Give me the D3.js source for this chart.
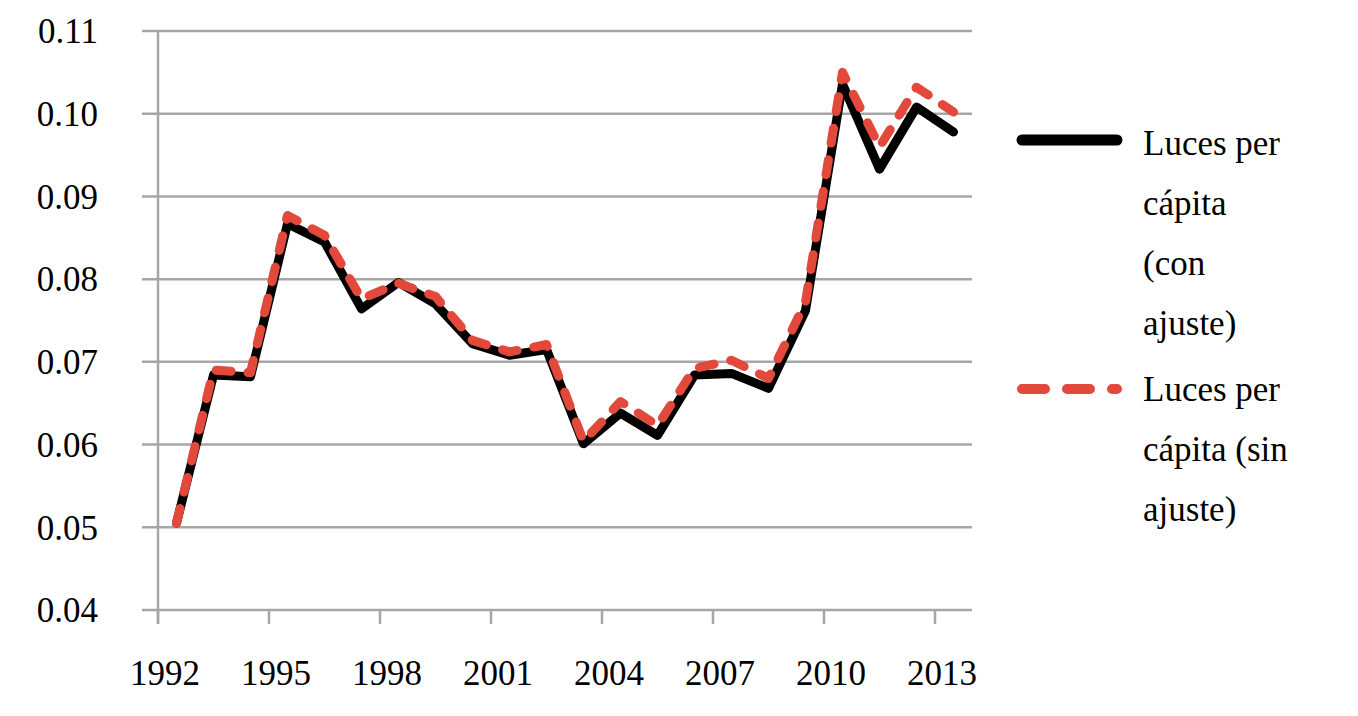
<!DOCTYPE html>
<html>
<head>
<meta charset="utf-8">
<script src="https://cdn.jsdelivr.net/npm/d3@7"></script>
<style>
  body { margin: 0; background: #fff; }
</style>
</head>
<body>
<svg class="chart"></svg>
<script>
// datos
const years = d3.range(1992, 2014).map(String);
const conAjuste = [0.0505, 0.0684, 0.0682, 0.0867, 0.0845, 0.0764, 0.0796, 0.0770, 0.0722, 0.0708,
  0.0715, 0.0601, 0.0638, 0.0611, 0.0684, 0.0686, 0.0668, 0.0762, 0.1036, 0.0933, 0.1008, 0.0978];
const sinAjuste = [0.0505, 0.0690, 0.0687, 0.0877, 0.0853, 0.0776, 0.0795, 0.0779, 0.0726, 0.0712,
  0.0721, 0.0604, 0.0652, 0.0623, 0.0692, 0.0702, 0.0680, 0.0772, 0.1050, 0.0960, 0.1032, 0.1002];
const yTicks = [0.04, 0.05, 0.06, 0.07, 0.08, 0.09, 0.10, 0.11];
const xLabels = ["1992", "1995", "1998", "2001", "2004", "2007", "2010", "2013"];
const legendNames = [["Luces per", "cápita", "(con", "ajuste)"], ["Luces per", "cápita (sin", "ajuste)"]];

const W = 1358, H = 716;
const margin = { left: 158, right: 972, top: 31, bottom: 610 };
const grey = "#a6a6a6", red = "#e2493b";

const svg = d3.select(".chart")
    .attr("width", W)
    .attr("height", H)
    .attr("font-family", "'Liberation Serif', 'Times New Roman', Times, serif")
    .attr("font-size", 35);

const x = d3.scaleBand().domain(years).range([margin.left, margin.right]).padding(0);
const y = d3.scaleLinear().domain([0.04, 0.11]).range([margin.bottom, margin.top]);

// líneas de cuadrícula horizontales + marcas del eje y
svg.append("g")
  .selectAll("line")
  .data(yTicks)
  .join("line")
    .attr("x1", margin.left - 16)
    .attr("x2", margin.right)
    .attr("y1", d => y(d))
    .attr("y2", d => y(d))
    .attr("stroke", grey)
    .attr("stroke-width", 2.5);

svg.append("g")
  .selectAll("text")
  .data(yTicks)
  .join("text")
    .attr("x", 98)
    .attr("y", d => y(d))
    .attr("dy", "0.35em")
    .attr("text-anchor", "end")
    .text(d => d3.format(".2f")(d));

// eje y
svg.append("line")
  .attr("x1", margin.left).attr("x2", margin.left)
  .attr("y1", margin.top).attr("y2", margin.bottom + 14)
  .attr("stroke", grey).attr("stroke-width", 2.5);

// marcas del eje x cada 3 años
svg.append("g")
  .selectAll("line")
  .data(xLabels)
  .join("line")
    .attr("x1", d => x(d))
    .attr("x2", d => x(d))
    .attr("y1", margin.bottom)
    .attr("y2", margin.bottom + 14)
    .attr("stroke", grey)
    .attr("stroke-width", 2.5);

svg.append("g")
  .selectAll("text")
  .data(xLabels)
  .join("text")
    .attr("x", d => x(d) + 7)
    .attr("y", 685)
    .attr("text-anchor", "middle")
    .text(d => d);

const cx = d => x(d) + x.bandwidth() / 2;

const lineYear = d3.line()
  .x((d, i) => cx(years[i]))
  .y(d => y(d));

svg.append("path")
  .datum(conAjuste)
  .attr("d", lineYear)
  .attr("fill", "none")
  .attr("stroke", "#000")
  .attr("stroke-width", 9)
  .attr("stroke-linejoin", "round")
  .attr("stroke-linecap", "round");

svg.append("path")
  .datum(sinAjuste)
  .attr("d", lineYear)
  .attr("fill", "none")
  .attr("stroke", red)
  .attr("stroke-width", 9)
  .attr("stroke-dasharray", "15,17")
  .attr("stroke-linejoin", "round")
  .attr("stroke-linecap", "round");

// leyenda
const leg = svg.append("g");
leg.append("line")
  .attr("x1", 1022).attr("x2", 1117)
  .attr("y1", 140).attr("y2", 140)
  .attr("stroke", "#000").attr("stroke-width", 11)
  .attr("stroke-linecap", "round");
leg.append("line")
  .attr("x1", 1022).attr("x2", 1117)
  .attr("y1", 389).attr("y2", 389)
  .attr("stroke", red).attr("stroke-width", 10)
  .attr("stroke-dasharray", "23,22")
  .attr("stroke-linecap", "round");

const legStart = [155, 401];
legendNames.forEach((lines, k) => {
  leg.append("g")
    .selectAll("text")
    .data(lines)
    .join("text")
      .attr("x", 1143)
      .attr("y", (d, i) => legStart[k] + i * 60)
      .text(d => d);
});
</script>
</body>
</html>
